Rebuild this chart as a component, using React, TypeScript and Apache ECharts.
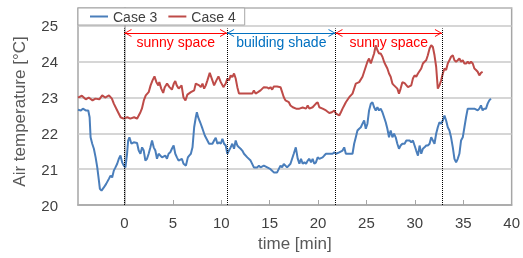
import React, { useEffect, useRef } from "react";
import * as echarts from "echarts";

// ---- data ----
const case3Time = [
  -4.8, -4.5, -4.3, -4.0, -3.74, -3.6, -3.5, -3.33, -3.16, -2.98, -2.81, -2.64, -2.54, -2.37, -2.13, -1.89, -1.61, -1.44, -1.27, -1.1,
  -0.93, -0.75, -0.58, -0.41, -0.24, -0.07, 0.1, 0.27, 0.38, 0.51, 0.72, 0.96, 1.3, 1.47, 1.65, 1.82, 1.99, 2.16, 2.33, 2.5,
  2.68, 2.85, 3.02, 3.19, 3.36, 3.53, 3.88, 4.22, 4.39, 4.56, 4.73, 4.9, 5.08, 5.25, 5.42, 5.59, 5.93, 6.1, 6.35, 6.55,
  6.69, 6.86, 7.03, 7.2, 7.37, 7.48, 7.61, 7.82, 8.06, 8.3, 8.57, 8.74, 9.09, 9.26, 9.43, 9.6, 9.77, 9.95, 10.12, 10.29,
  10.46, 10.63, 10.8, 10.97, 11.14, 11.32, 11.49, 11.66, 11.83, 12.0, 12.17, 12.35, 12.69, 13.03, 13.37, 13.72, 13.89, 14.06, 14.4, 14.75,
  15.09, 15.43, 15.77, 16.12, 16.29, 16.46, 16.8, 17.15, 17.49, 17.7, 17.9, 18.07, 18.24, 18.41, 18.59, 18.76, 18.93, 19.1, 19.27, 19.44,
  19.61, 19.78, 19.96, 20.13, 20.47, 20.64, 20.82, 21.16, 21.5, 21.68, 21.85, 22.19, 22.53, 22.7, 22.87, 23.22, 23.56, 23.73, 23.9, 24.07,
  24.25, 24.42, 24.59, 24.76, 24.93, 25.1, 25.27, 25.45, 25.62, 25.79, 25.96, 26.13, 26.3, 26.47, 26.65, 26.82, 26.99, 27.16, 27.33, 27.5,
  27.68, 27.85, 28.02, 28.19, 28.36, 28.53, 28.71, 28.94, 29.12, 29.46, 29.63, 29.8, 29.97, 30.14, 30.32, 30.49, 30.66, 30.83, 31.0, 31.17,
  31.34, 31.52, 31.69, 31.86, 32.03, 32.2, 32.37, 32.54, 32.72, 32.89, 33.06, 33.23, 33.4, 33.57, 33.74, 33.92, 34.09, 34.26, 34.43, 34.6,
  34.77, 34.95, 35.12, 35.29, 35.46, 35.8, 36.15, 36.49, 36.66, 36.83, 37.0, 37.17, 37.35, 37.52, 37.69, 37.86,
];
const case3Temp = [
  22.66, 22.64, 22.69, 22.64, 22.64, 22.45, 21.89, 21.71, 21.57, 21.33, 21.05, 20.68, 20.45, 20.4, 20.49, 20.59, 20.73, 20.82, 20.77, 20.96,
  21.05, 21.15, 21.29, 21.38, 21.19, 21.1, 21.05, 21.43, 21.8, 21.89, 21.71, 21.75, 21.73, 21.52, 21.43, 21.61, 21.52, 21.24, 21.29, 21.43,
  21.61, 21.8, 21.61, 21.52, 21.29, 21.43, 21.33, 21.38, 21.29, 21.43, 21.47, 21.57, 21.66, 21.43, 21.33, 21.24, 21.29, 21.15, 21.1, 21.33,
  21.38, 21.43, 21.61, 22.17, 22.45, 22.59, 22.45, 22.31, 22.13, 21.94, 21.8, 21.71, 21.71, 21.8, 21.88, 21.71, 21.75, 21.71, 21.85, 21.71,
  21.66, 21.43, 21.52, 21.61, 21.71, 21.57, 21.8, 21.66, 21.61, 21.57, 21.52, 21.43, 21.33, 21.24, 21.05, 21.05, 21.1, 21.05, 21.1, 21.05,
  21.0, 20.91, 20.91, 21.1, 21.05, 21.15, 21.05, 21.15, 21.43, 21.61, 21.29, 21.15, 21.29, 21.15, 21.19, 21.15, 21.24, 21.29, 21.19, 21.29,
  21.15, 21.19, 21.33, 21.29, 21.33, 21.38, 21.43, 21.43, 21.43, 21.47, 21.43, 21.47, 21.52, 21.61, 21.43, 21.43, 21.43, 21.71, 21.89, 22.08,
  22.13, 22.17, 22.27, 22.36, 22.13, 22.27, 22.64, 22.83, 22.87, 22.73, 22.64, 22.73, 22.64, 22.69, 22.59, 22.45, 22.31, 22.13, 21.89, 22.08,
  21.89, 21.99, 21.89, 21.71, 21.57, 21.66, 21.71, 21.71, 21.8, 21.8, 21.75, 21.8, 21.66, 21.52, 21.38, 21.66, 21.43, 21.57, 21.61, 21.66,
  21.66, 21.71, 21.89, 21.8, 21.71, 21.99, 22.17, 22.31, 22.27, 22.36, 22.5, 22.36, 22.17, 22.08, 21.89, 21.61, 21.29, 21.19, 21.29, 21.43,
  21.8, 21.89, 22.17, 22.45, 22.69, 22.69, 22.69, 22.64, 22.69, 22.78, 22.64, 22.69, 22.69, 22.83, 22.92, 22.97,
];

const case4Time = [
  -4.8, -4.4, -4.0, -3.7, -3.3, -3.0, -2.6, -2.3, -2.0, -1.6, -1.3, -1.1, -0.75, -0.4, -0.1, 0.3, 0.6, 1.0, 1.3, 1.65,
  1.8, 2.0, 2.2, 2.5, 2.7, 2.9, 3.1, 3.3, 3.5, 3.6, 3.8, 4.0, 4.15, 4.4, 4.65, 4.9, 5.1, 5.25, 5.4, 5.6,
  5.9, 6.1, 6.3, 6.5, 6.86, 7.2, 7.37, 7.72, 7.89, 8.06, 8.23, 8.4, 8.57, 8.81, 9.02, 9.26, 9.5, 9.71, 9.95, 10.22,
  10.46, 10.63, 10.8, 10.97, 11.14, 11.32, 11.49, 11.66, 11.83, 12.17, 12.52, 12.86, 13.2, 13.37, 13.55, 13.79, 14.06, 14.4, 14.75, 14.92,
  15.09, 15.26, 15.43, 15.77, 16.12, 16.29, 16.46, 16.63, 16.98, 17.15, 17.39, 17.73, 18.07, 18.41, 18.76, 18.93, 19.1, 19.44, 19.78, 19.96,
  20.13, 20.47, 20.82, 21.16, 21.43, 21.68, 21.85, 22.19, 22.36, 22.53, 22.7, 22.87, 23.22, 23.56, 23.73, 23.9, 24.25, 24.59, 24.76, 24.93,
  25.1, 25.27, 25.45, 25.62, 25.79, 25.96, 26.13, 26.3, 26.47, 26.65, 26.82, 26.99, 27.16, 27.33, 27.5, 27.68, 27.85, 28.19, 28.36, 28.53,
  28.71, 28.94, 29.29, 29.63, 29.8, 29.97, 30.14, 30.32, 30.66, 30.83, 31.0, 31.17, 31.34, 31.52, 31.69, 31.86, 32.03, 32.2, 32.37, 32.54,
  32.72, 32.89, 33.06, 33.23, 33.4, 33.57, 33.74, 33.92, 34.09, 34.26, 34.43, 34.6, 34.77, 34.95, 35.12, 35.29, 35.46, 35.63, 35.8, 35.98,
  36.15, 36.32, 36.49, 36.66, 36.83, 37.0,
];
const case4Temp = [
  23.0, 23.05, 22.95, 23.0, 22.92, 22.97, 22.95, 23.06, 23.0, 23.06, 22.97, 22.83, 22.64, 22.45, 22.41, 22.45, 22.41, 22.45, 22.41, 22.59,
  22.69, 22.92, 23.06, 23.15, 23.34, 23.48, 23.59, 23.43, 23.34, 23.43, 23.25, 23.13, 23.28, 23.39, 23.29, 23.22, 23.39, 23.46, 23.34, 23.25,
  23.34, 23.0, 22.92, 23.08, 23.15, 23.2, 23.39, 23.34, 23.29, 23.39, 23.25, 23.34, 23.48, 23.69, 23.53, 23.34, 23.48, 23.59, 23.43, 23.29,
  23.39, 23.53, 23.48, 23.62, 23.57, 23.67, 23.53, 23.29, 23.11, 23.11, 23.11, 23.11, 23.11, 23.2, 23.11, 23.15, 23.2, 23.29, 23.28, 23.25,
  23.29, 23.22, 23.31, 23.31, 23.29, 23.15, 23.01, 22.92, 22.87, 22.78, 22.73, 22.69, 22.69, 22.72, 22.69, 22.78, 22.69, 22.73, 22.83, 22.87,
  22.73, 22.69, 22.64, 22.57, 22.59, 22.64, 22.55, 22.5, 22.59, 22.69, 22.78, 22.87, 23.01, 23.11, 23.25, 23.39, 23.43, 23.58, 23.72, 23.86,
  24.0, 24.09, 23.95, 24.09, 24.23, 24.46, 24.32, 24.23, 24.23, 24.14, 24.0, 23.9, 23.81, 23.67, 23.58, 23.39, 23.34, 23.25, 23.11, 23.25,
  23.43, 23.4, 23.29, 23.34, 23.53, 23.62, 23.58, 23.67, 23.81, 23.95, 24.0, 24.04, 24.18, 24.37, 24.46, 24.41, 24.18, 23.86, 23.25, 23.34,
  23.48, 23.67, 23.81, 23.77, 23.95, 24.04, 24.14, 24.18, 24.04, 24.0, 24.04, 24.09, 24.0, 24.04, 23.95, 23.95, 24.0, 23.95, 24.0, 23.95,
  23.81, 23.77, 23.72, 23.62, 23.69, 23.72,
];

const xTicks = [0, 5, 10, 15, 20, 25, 30, 35, 40];
const phaseBounds = [0, 10.6, 21.8, 32.8];
const phaseLabels = ["sunny space", "building shade", "sunny space"];
const phaseColors = ["#ff0000", "#0070c0", "#ff0000"];

const FONT = "Liberation Sans";
// open chevron pointing up, tip at the centre of its (padded) box
const chevron = "path://M0,20 L5,10 L10,20 L8.8,20 L5,12.4 L1.2,20 Z M5,0 L5.01,0 L5,0.01 Z";
const legendLine = "path://M0,0 L18,0 L18,2 L0,2 Z";

export default function App() {
  const ref = useRef<HTMLDivElement>(null);
  useEffect(() => {
    const chart = echarts.init(ref.current!, null, { renderer: "svg" });
    const yArrow = 24.8;
    const yLineTop = 24.93;
    const markData: any[] = [];
    phaseBounds.forEach((t) => {
      markData.push([
        { coord: [t, 20], symbol: "none", lineStyle: { type: "dotted", color: "#000", width: 1 }, label: { show: false } },
        { coord: [t, yLineTop], symbol: "none" },
      ]);
    });
    phaseLabels.forEach((lab, i) => {
      markData.push([
        {
          coord: [phaseBounds[i], yArrow],
          symbol: chevron,
          symbolSize: [8, 14],
          lineStyle: { type: "solid", color: phaseColors[i], width: 1 },
          label: {
            show: true,
            position: "insideMiddleBottom",
            formatter: lab,
            color: phaseColors[i],
            fontSize: 14,
            fontFamily: FONT,
            distance: 2,
          },
        },
        { coord: [phaseBounds[i + 1], yArrow], symbol: chevron, symbolSize: [8, 14] },
      ]);
    });

    chart.setOption({
      animation: false,
      grid: { left: 78, right: 9, top: 8, bottom: 53, show: true, borderColor: "#a6a6a6", borderWidth: 1.5 },
      legend: {
        left: 78,
        top: 8,
        padding: [1, 9, 1, 12],
        itemGap: 11,
        itemWidth: 18,
        itemHeight: 2,
        icon: legendLine,
        backgroundColor: "#fff",
        borderColor: "#a6a6a6",
        borderWidth: 1,
        textStyle: { fontSize: 14, fontFamily: FONT, color: "#404040", lineHeight: 15 },
        data: ["Case 3", "Case 4"],
      },
      xAxis: {
        type: "value",
        min: -4.8,
        max: 40,
        name: "time [min]",
        nameLocation: "middle",
        nameGap: 30,
        nameTextStyle: { fontSize: 17, fontFamily: FONT, color: "#595959" },
        axisLine: { show: true, lineStyle: { color: "#a6a6a6", width: 1.5 } },
        axisTick: { show: true, inside: true, length: 5, customValues: xTicks, lineStyle: { color: "#a6a6a6" } },
        axisLabel: { customValues: xTicks, fontSize: 15, fontFamily: FONT, color: "#404040", margin: 10 },
        splitLine: { show: false },
      },
      yAxis: {
        type: "value",
        min: 20,
        max: 25.5,
        interval: 1,
        name: "Air temperature [°C]",
        nameLocation: "middle",
        nameGap: 50,
        nameTextStyle: { fontSize: 17, fontFamily: FONT, color: "#595959", padding: [0, 0, 0, -10] },
        axisLine: { show: true, lineStyle: { color: "#a6a6a6", width: 1.5 } },
        axisTick: { show: false },
        axisLabel: {
          fontSize: 15,
          fontFamily: FONT,
          color: "#404040",
          margin: 20,
          formatter: (v: number) => (Number.isInteger(v) ? String(v) : ""),
        },
        splitLine: { show: true, lineStyle: { color: "#c8c8c8", width: 1.5 } },
      },
      series: [
        {
          name: "Case 3",
          type: "line",
          symbol: "none",
          color: "#4a7ebb",
          lineStyle: { width: 2, color: "#4a7ebb" },
          data: case3Time.map((t, i) => [t, case3Temp[i]]),
          markLine: { silent: true, animation: false, data: markData, emphasis: { disabled: true } },
        },
        {
          name: "Case 4",
          type: "line",
          symbol: "none",
          color: "#be4b48",
          lineStyle: { width: 2, color: "#be4b48" },
          data: case4Time.map((t, i) => [t, case4Temp[i]]),
        },
      ],
    });
    return () => chart.dispose();
  }, []);
  return <div ref={ref} style={{ position: "fixed", left: 0, top: 0, width: 523, height: 258 }} />;
}
